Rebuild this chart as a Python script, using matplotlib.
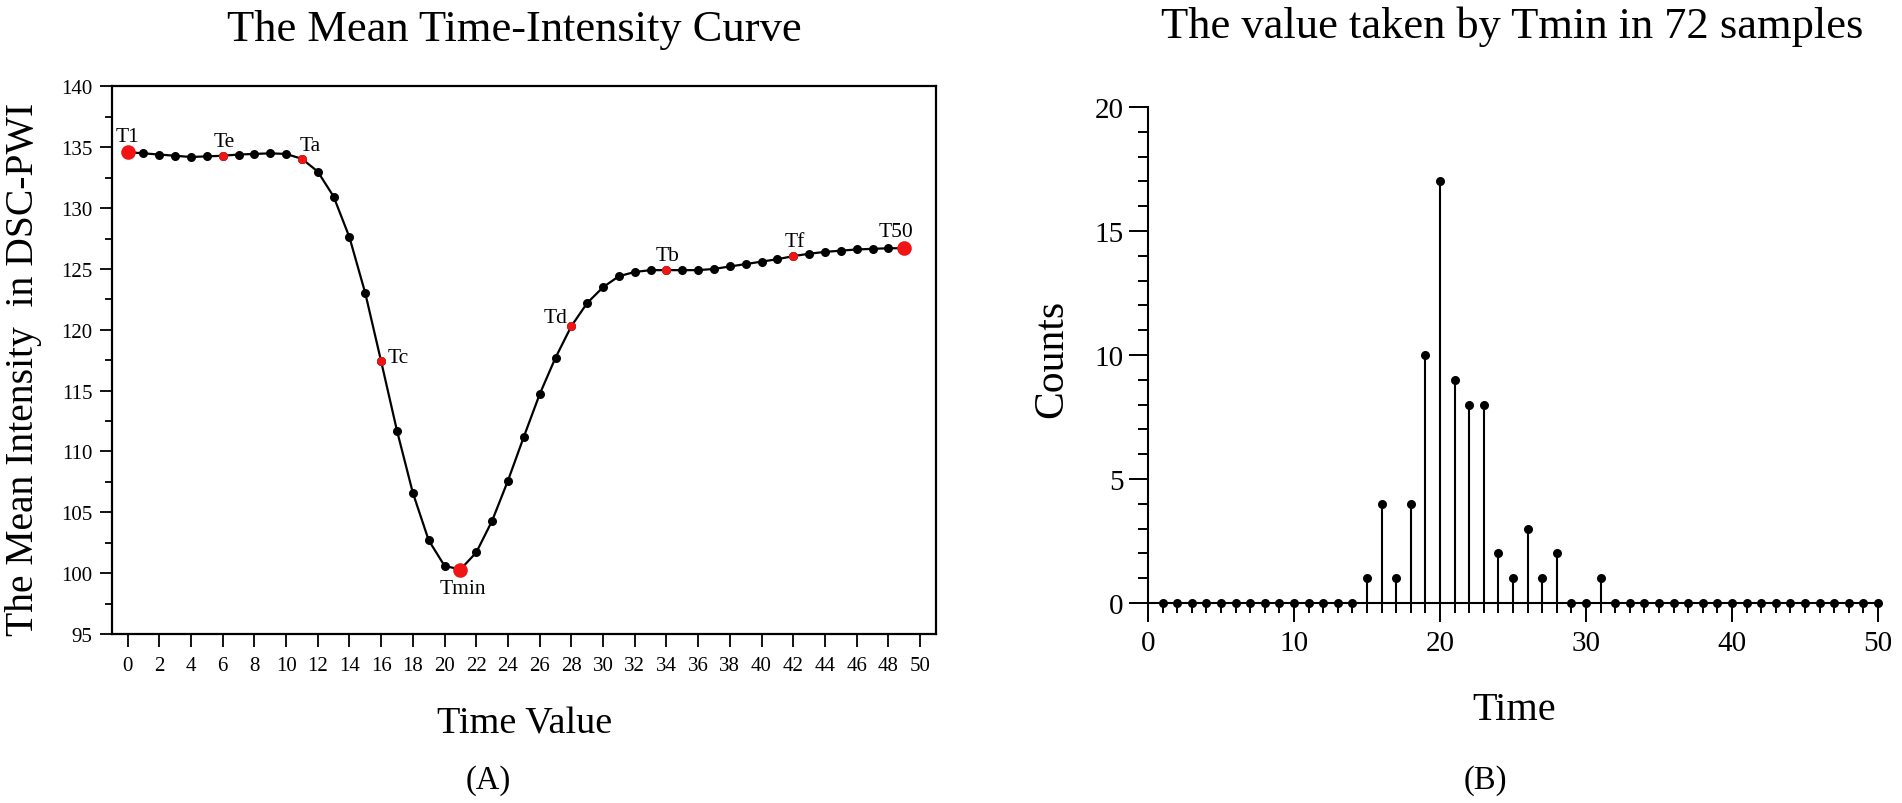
import matplotlib
matplotlib.use("Agg")
import matplotlib.pyplot as plt
from matplotlib.ticker import MultipleLocator

plt.rcParams["font.family"] = ["Liberation Serif", "DejaVu Serif"]

# --- data: panel A, mean time-intensity curve ---
time_a = list(range(50))
intensity = [134.6, 134.5, 134.4, 134.3, 134.2, 134.25, 134.3, 134.4, 134.45, 134.5,
             134.45, 134.05, 133.0, 130.95, 127.6, 123.0, 117.4, 111.7, 106.6, 102.7,
             100.6, 100.3, 101.7, 104.3, 107.6, 111.2, 114.7, 117.7, 120.3, 122.2,
             123.5, 124.4, 124.75, 124.9, 124.9, 124.9, 124.9, 125.0, 125.2, 125.4,
             125.6, 125.8, 126.05, 126.25, 126.4, 126.5, 126.6, 126.65, 126.7, 126.7]
key_labels = ["T1", "Te", "Ta", "Tc", "Tmin", "Td", "Tb", "Tf", "T50"]
key_index = [0, 6, 11, 16, 21, 28, 34, 42, 49]
key_big = [True, False, False, False, True, False, False, False, True]
# label offsets (points) and alignment per key point
key_offset = [(0, 8), (1, 7), (6, 6), (5, 3), (2, -7), (-3, 3), (1, 7), (1, 7), (-6, 9)]
key_ha = ["center", "center", "center", "left", "center", "right", "center", "center", "center"]
key_va = ["baseline", "baseline", "baseline", "center", "top", "baseline", "baseline", "baseline", "baseline"]

# --- data: panel B, value taken by Tmin in 72 samples ---
time_b = list(range(1, 51))
counts = [0] * 14 + [1, 4, 1, 4, 10, 17, 9, 8, 8, 2, 1, 3, 1, 2, 0, 0, 1] + [0] * 19

RED = "#f01414"
W, H = 1902, 804

fig = plt.figure(figsize=(W / 100, H / 100), dpi=100)
fig.patch.set_facecolor("white")

# ---------------- panel A ----------------
ax = fig.add_axes([111.7 / W, 1 - 635 / H, 824.2 / W, 547.6 / H])
ax.plot(time_a, intensity, color="black", linewidth=1.6, marker="o",
        markersize=6.5, markerfacecolor="black", markeredgewidth=0, zorder=2)
for lab, idx, big, off, ha, va in zip(key_labels, key_index, key_big, key_offset, key_ha, key_va):
    ax.plot(time_a[idx], intensity[idx], marker="o", color=RED,
            markersize=10.5 if big else 6.5, markeredgewidth=0, zorder=3)
    ax.annotate(lab, (time_a[idx], intensity[idx]), xytext=off, textcoords="offset points",
                ha=ha, va=va, fontsize=15.5)

ax.set_xlim(-1, 51)
ax.set_ylim(95, 140)
ax.xaxis.set_major_locator(MultipleLocator(2))
ax.yaxis.set_major_locator(MultipleLocator(5))
ax.yaxis.set_minor_locator(MultipleLocator(2.5))
ax.tick_params(axis="both", which="major", direction="out", length=9, width=1.3,
               labelsize=15)
ax.tick_params(axis="y", which="minor", direction="out", length=5, width=1.3)
ax.tick_params(axis="x", pad=7)
ax.tick_params(axis="y", pad=5)
for s in ax.spines.values():
    s.set_linewidth(1.6)

# ---------------- panel B ----------------
bx = fig.add_axes([1148 / W, 1 - 604 / H, 730 / W, 496 / H])
bx.vlines(time_b, 0, counts, color="black", linewidth=1.5)
bx.plot(time_b, counts, linestyle="none", marker="o", color="black",
        markersize=6.5, markeredgewidth=0, clip_on=False, zorder=3)
bx.set_xlim(0, 50)
bx.set_ylim(0, 20)
bx.spines["top"].set_visible(False)
bx.spines["right"].set_visible(False)
for s in ("left", "bottom"):
    bx.spines[s].set_linewidth(1.5)
bx.xaxis.set_major_locator(MultipleLocator(10))
bx.xaxis.set_minor_locator(MultipleLocator(1))
bx.yaxis.set_major_locator(MultipleLocator(5))
bx.yaxis.set_minor_locator(MultipleLocator(1))
bx.tick_params(axis="both", which="major", direction="out", length=13.5, width=1.4,
               labelsize=21)
bx.tick_params(axis="both", which="minor", direction="out", length=7, width=1.4)
bx.tick_params(axis="x", pad=6)
bx.tick_params(axis="y", pad=4)

# ---------------- titles & labels ----------------
fig.text(514.5 / W, 1 - 41 / H, "The Mean Time-Intensity Curve", ha="center",
         va="baseline", fontsize=32)
fig.text(1512 / W, 1 - 38 / H, "The value taken by Tmin in 72 samples", ha="center",
         va="baseline", fontsize=32)
fig.text(24 / W, 1 - 369 / H, "The Mean Intensity  in DSC-PWI", rotation=90,
         ha="center", va="center", fontsize=28.5)
fig.text(1052 / W, 1 - 359 / H, "Counts", rotation=90, ha="center", va="center",
         fontsize=30)
fig.text(525 / W, 1 - 734 / H, "Time Value", ha="center", va="baseline", fontsize=27.5)
fig.text(1514 / W, 1 - 720 / H, "Time", ha="center", va="baseline", fontsize=29)
fig.text(488 / W, 1 - 781 / H, "(A)", ha="center", va="center", fontsize=23.5)
fig.text(1485 / W, 1 - 781 / H, "(B)", ha="center", va="center", fontsize=23.5)

fig.savefig("out.png", dpi=100, facecolor="white")
plt.close(fig)
